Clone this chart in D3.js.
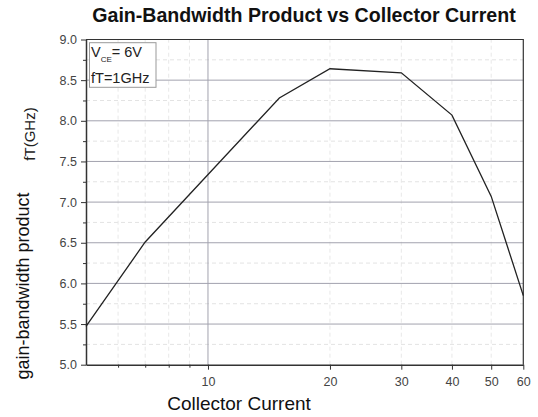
<!DOCTYPE html>
<html>
  <head>
    <meta charset="utf-8" />
    <style>
      body {
        margin: 0;
        background: #fff;
      }
      svg {
        display: block;
        font-family: "Liberation Sans", Arial, sans-serif;
      }
      .tick text {
        fill: #444;
        font-size: 12.5px;
      }
    </style>
  </head>
  <body>
    <svg width="538" height="417"></svg>

    <script src="https://d3js.org/d3.v7.min.js"></script>
    <script>
      // values
      let current = [5, 7, 15, 20, 30, 40, 50, 60];
      let gain = [5.47, 6.51, 8.28, 8.64, 8.59, 8.07, 7.07, 5.85];

      let xMajor = [10, 20, 30, 40, 50, 60];
      let xMinor = [6, 7, 8, 9];
      let xDashed = [6, 7, 8, 9, 20, 30, 40, 50];
      let yMajor = [5.0, 5.5, 6.0, 6.5, 7.0, 7.5, 8.0, 8.5, 9.0];
      let yMinor = [5.25, 5.75, 6.25, 6.75, 7.25, 7.75, 8.25, 8.75];

      let margin = { top: 39.5, right: 14.7, bottom: 52.3, left: 86 };
      let width = 538;
      let height = 417;

      let svg = d3.select("svg");

      let x = d3
        .scaleLog()
        .domain([5, 60])
        .range([margin.left, width - margin.right]);

      let y = d3
        .scaleLinear()
        .domain([5, 9])
        .range([height - margin.bottom, margin.top]);

      let grid = svg.append("g");

      // dashed minor grid
      grid
        .selectAll(".hminor")
        .data(yMinor)
        .join("line")
        .attr("x1", x(5))
        .attr("x2", x(60))
        .attr("y1", (d) => y(d))
        .attr("y2", (d) => y(d))
        .attr("stroke", "#e3e3e3")
        .attr("stroke-dasharray", "4,3");

      grid
        .selectAll(".vminor")
        .data(xDashed)
        .join("line")
        .attr("x1", (d) => x(d))
        .attr("x2", (d) => x(d))
        .attr("y1", y(5))
        .attr("y2", y(9))
        .attr("stroke", "#e8e8e8")
        .attr("stroke-dasharray", "4,3");

      // solid major grid
      grid
        .selectAll(".hmajor")
        .data(yMajor.slice(1, -1))
        .join("line")
        .attr("x1", x(5))
        .attr("x2", x(60))
        .attr("y1", (d) => y(d))
        .attr("y2", (d) => y(d))
        .attr("stroke", "#a2a2ae")
        .attr("stroke-width", 1);

      grid
        .append("line")
        .attr("x1", x(10))
        .attr("x2", x(10))
        .attr("y1", y(5))
        .attr("y2", y(9))
        .attr("stroke", "#a2a2ae");

      // frame top / right
      svg
        .append("path")
        .attr("d", `M${x(5)},${y(9)}H${x(60)}V${y(5)}`)
        .attr("fill", "none")
        .attr("stroke", "#333")
        .attr("stroke-width", 1.2);

      // axes
      let yAxis = svg
        .append("g")
        .attr("transform", `translate(${x(5)},0)`)
        .call(
          d3
            .axisLeft(y)
            .tickValues(yMajor)
            .tickFormat(d3.format(".1f"))
            .tickSize(5)
            .tickPadding(4)
            .tickSizeOuter(0)
        );
      yAxis.select(".domain").attr("stroke", "#333").attr("stroke-width", 1.5);
      yAxis.selectAll(".tick line").attr("stroke", "#333");

      let yAxisMinor = svg
        .append("g")
        .attr("transform", `translate(${x(5)},0)`)
        .call(d3.axisLeft(y).tickValues(yMinor).tickSize(3).tickFormat(""));
      yAxisMinor.select(".domain").remove();
      yAxisMinor.selectAll(".tick line").attr("stroke", "#333");

      let xAxis = svg
        .append("g")
        .attr("transform", `translate(0,${y(5)})`)
        .call(
          d3
            .axisBottom(x)
            .tickValues(xMajor)
            .tickFormat(d3.format("d"))
            .tickSize(5)
            .tickPadding(7)
            .tickSizeOuter(0)
        );
      xAxis.select(".domain").attr("stroke", "#333").attr("stroke-width", 1.5);
      xAxis.selectAll(".tick line").attr("stroke", "#333");

      let xAxisMinor = svg
        .append("g")
        .attr("transform", `translate(0,${y(5)})`)
        .call(d3.axisBottom(x).tickValues(xMinor).tickSize(3).tickFormat(""));
      xAxisMinor.select(".domain").remove();
      xAxisMinor.selectAll(".tick line").attr("stroke", "#333");

      // the curve
      let line = d3
        .line()
        .x((d) => x(d[0]))
        .y((d) => y(d[1]));

      svg
        .append("path")
        .datum(d3.zip(current, gain))
        .attr("d", line)
        .attr("fill", "none")
        .attr("stroke", "#222")
        .attr("stroke-width", 1.3);

      // legend box
      let legend = svg.append("g").attr("transform", "translate(89.5,42.7)");
      legend
        .append("rect")
        .attr("width", 66.5)
        .attr("height", 44.6)
        .attr("fill", "#fff")
        .attr("stroke", "#999");
      let l1 = legend
        .append("text")
        .attr("x", 1.5)
        .attr("y", 14.8)
        .style("font-size", "14.5px")
        .attr("fill", "#222");
      l1.append("tspan").text("V");
      l1.append("tspan")
        .attr("dy", 5)
        .style("font-size", "8px")
        .text("CE");
      l1.append("tspan").attr("dy", -5).text("= 6V");
      legend
        .append("text")
        .attr("x", 1.5)
        .attr("y", 40.6)
        .style("font-size", "14.5px")
        .attr("fill", "#222")
        .text("fT=1GHz");

      // titles
      svg
        .append("text")
        .attr("x", 304)
        .attr("y", 21.7)
        .attr("text-anchor", "middle")
        .style("font-size", "19.6px")
        .style("font-weight", "bold")
        .attr("fill", "#111")
        .text("Gain-Bandwidth Product vs Collector Current");

      svg
        .append("text")
        .attr("x", 239)
        .attr("y", 410)
        .attr("text-anchor", "middle")
        .style("font-size", "19px")
        .attr("fill", "#111")
        .text("Collector Current");

      svg
        .append("text")
        .attr("transform", "translate(35,134) rotate(-90)")
        .attr("text-anchor", "middle")
        .style("font-size", "15px")
        .attr("fill", "#222")
        .text("fT(GHz)");

      svg
        .append("text")
        .attr("transform", "translate(29,286) rotate(-90)")
        .attr("text-anchor", "middle")
        .style("font-size", "18px")
        .attr("fill", "#111")
        .text("gain-bandwidth product");
    </script>
  </body>
</html>
